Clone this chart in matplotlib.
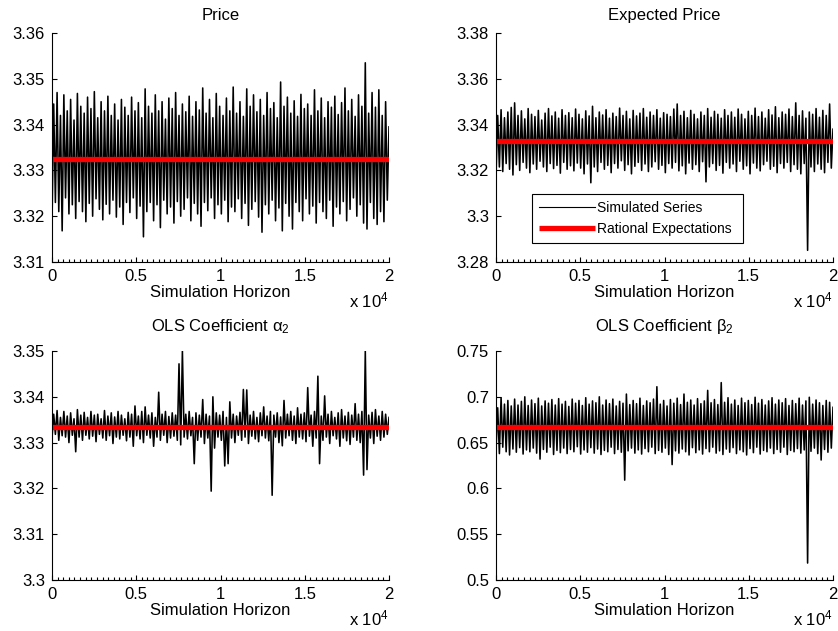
import numpy as np
import matplotlib
matplotlib.use("Agg")
import matplotlib.pyplot as plt
from matplotlib.ticker import FuncFormatter, MultipleLocator, FixedLocator

plt.rcParams['font.family'] = ['Liberation Sans', 'DejaVu Sans']
plt.rcParams['mathtext.fontset'] = 'custom'
plt.rcParams['mathtext.rm'] = 'Liberation Sans'
plt.rcParams['mathtext.it'] = 'Liberation Sans:italic'
plt.rcParams['mathtext.sf'] = 'Liberation Sans'

# ---------------- data ----------------
horizon = 20000

price_upper = [
    3.3445, 3.3470, 3.3420, 3.3465, 3.3430, 3.3455, 3.3410, 3.3468, 3.3440, 3.3425,
    3.3460, 3.3435, 3.3472, 3.3415, 3.3450, 3.3430, 3.3462, 3.3420, 3.3445, 3.3410,
    3.3455, 3.3438, 3.3420, 3.3460, 3.3430, 3.3448, 3.3415, 3.3478, 3.3440, 3.3425,
    3.3465, 3.3430, 3.3450, 3.3412, 3.3458, 3.3435, 3.3470, 3.3420, 3.3445, 3.3428,
    3.3462, 3.3418, 3.3450, 3.3432, 3.3480, 3.3425, 3.3455, 3.3415, 3.3468, 3.3440,
    3.3420, 3.3458, 3.3430, 3.3482, 3.3425, 3.3450, 3.3418, 3.3478, 3.3440, 3.3465,
    3.3428, 3.3455, 3.3420, 3.3470, 3.3435, 3.3448, 3.3415, 3.3493, 3.3440, 3.3460,
    3.3425, 3.3452, 3.3418, 3.3466, 3.3435, 3.3445, 3.3420, 3.3476, 3.3430, 3.3458,
    3.3415, 3.3450, 3.3438, 3.3462, 3.3422, 3.3448, 3.3480, 3.3430, 3.3455, 3.3418,
    3.3465, 3.3440, 3.3535, 3.3425, 3.3470, 3.3438, 3.3476, 3.3420, 3.3450, 3.3395]
price_lower = [
    3.3185, 3.3230, 3.3210, 3.3168, 3.3240, 3.3205, 3.3225, 3.3195, 3.3232, 3.3210,
    3.3188, 3.3228, 3.3200, 3.3238, 3.3215, 3.3192, 3.3226, 3.3205, 3.3235, 3.3198,
    3.3220, 3.3182, 3.3230, 3.3208, 3.3240, 3.3195, 3.3222, 3.3155, 3.3210, 3.3230,
    3.3190, 3.3225, 3.3175, 3.3235, 3.3205, 3.3220, 3.3185, 3.3232, 3.3200, 3.3215,
    3.3240, 3.3190, 3.3228, 3.3205, 3.3178, 3.3230, 3.3212, 3.3240, 3.3195, 3.3225,
    3.3205, 3.3235, 3.3188, 3.3220, 3.3210, 3.3238, 3.3195, 3.3228, 3.3180, 3.3215,
    3.3232, 3.3198, 3.3165, 3.3225, 3.3205, 3.3235, 3.3190, 3.3218, 3.3168, 3.3228,
    3.3200, 3.3172, 3.3230, 3.3210, 3.3190, 3.3238, 3.3205, 3.3222, 3.3185, 3.3230,
    3.3210, 3.3195, 3.3235, 3.3178, 3.3220, 3.3205, 3.3232, 3.3190, 3.3215, 3.3240,
    3.3200, 3.3225, 3.3185, 3.3172, 3.3230, 3.3195, 3.3182, 3.3210, 3.3188, 3.3235]
price_re = 3.3325

exp_upper = [
    3.3440, 3.3465, 3.3430, 3.3455, 3.3475, 3.3495, 3.3440, 3.3460, 3.3425, 3.3470,
    3.3445, 3.3435, 3.3462, 3.3420, 3.3450, 3.3470, 3.3438, 3.3455, 3.3428, 3.3465,
    3.3440, 3.3452, 3.3430, 3.3468, 3.3445, 3.3425, 3.3460, 3.3438, 3.3480, 3.3430,
    3.3455, 3.3442, 3.3465, 3.3428, 3.3450, 3.3435, 3.3472, 3.3440, 3.3458, 3.3425,
    3.3462, 3.3438, 3.3450, 3.3470, 3.3432, 3.3455, 3.3440, 3.3465, 3.3428, 3.3452,
    3.3445, 3.3435, 3.3468, 3.3490, 3.3440, 3.3458, 3.3430, 3.3462, 3.3445, 3.3425,
    3.3455, 3.3440, 3.3470, 3.3432, 3.3458, 3.3445, 3.3428, 3.3465, 3.3440, 3.3455,
    3.3432, 3.3468, 3.3445, 3.3425, 3.3458, 3.3440, 3.3472, 3.3435, 3.3455, 3.3428,
    3.3465, 3.3442, 3.3478, 3.3430, 3.3455, 3.3445, 3.3468, 3.3435, 3.3495, 3.3440,
    3.3460, 3.3428, 3.3455, 3.3445, 3.3470, 3.3432, 3.3462, 3.3440, 3.3490, 3.3380]
exp_lower = [
    3.3175, 3.3215, 3.3195, 3.3230, 3.3205, 3.3180, 3.3225, 3.3200, 3.3235, 3.3210,
    3.3190, 3.3228, 3.3205, 3.3240, 3.3215, 3.3195, 3.3230, 3.3208, 3.3222, 3.3188,
    3.3235, 3.3205, 3.3220, 3.3198, 3.3232, 3.3210, 3.3185, 3.3228, 3.3146, 3.3215,
    3.3195, 3.3235, 3.3205, 3.3222, 3.3190, 3.3230, 3.3210, 3.3242, 3.3200, 3.3225,
    3.3185, 3.3218, 3.3235, 3.3200, 3.3228, 3.3195, 3.3215, 3.3238, 3.3205, 3.3222,
    3.3190, 3.3230, 3.3210, 3.3235, 3.3198, 3.3220, 3.3185, 3.3232, 3.3205, 3.3225,
    3.3195, 3.3238, 3.3150, 3.3215, 3.3230, 3.3200, 3.3222, 3.3188, 3.3235, 3.3210,
    3.3228, 3.3195, 3.3240, 3.3205, 3.3220, 3.3185, 3.3232, 3.3210, 3.3198, 3.3225,
    3.3240, 3.3205, 3.3218, 3.3190, 3.3230, 3.3210, 3.3235, 3.3195, 3.3225, 3.3205,
    3.3185, 3.3230, 3.2851, 3.3215, 3.3195, 3.3228, 3.3205, 3.3190, 3.3235, 3.3210]
exp_re = 3.3330

alpha_upper = [
    3.3362, 3.3370, 3.3355, 3.3368, 3.3358, 3.3365, 3.3352, 3.3372, 3.3360, 3.3366,
    3.3355, 3.3368, 3.3360, 3.3362, 3.3352, 3.3370, 3.3358, 3.3365, 3.3356, 3.3368,
    3.3360, 3.3352, 3.3366, 3.3362, 3.3380, 3.3358, 3.3368, 3.3378, 3.3360, 3.3365,
    3.3355, 3.3410, 3.3362, 3.3368, 3.3357, 3.3365, 3.3360, 3.3472, 3.3500, 3.3362,
    3.3368, 3.3355, 3.3365, 3.3360, 3.3394, 3.3362, 3.3358, 3.3400, 3.3365, 3.3360,
    3.3368, 3.3355, 3.3389, 3.3362, 3.3358, 3.3366, 3.3416, 3.3415, 3.3360, 3.3368,
    3.3355, 3.3365, 3.3378, 3.3358, 3.3368, 3.3360, 3.3365, 3.3356, 3.3392, 3.3362,
    3.3368, 3.3358, 3.3376, 3.3362, 3.3365, 3.3420, 3.3360, 3.3368, 3.3445, 3.3358,
    3.3402, 3.3362, 3.3368, 3.3355, 3.3365, 3.3372, 3.3358, 3.3366, 3.3360, 3.3385,
    3.3362, 3.3368, 3.3500, 3.3360, 3.3366, 3.3372, 3.3358, 3.3368, 3.3362, 3.3355]
alpha_lower = [
    3.3310, 3.3318, 3.3305, 3.3315, 3.3312, 3.3300, 3.3316, 3.3280, 3.3312, 3.3305,
    3.3316, 3.3308, 3.3314, 3.3302, 3.3318, 3.3310, 3.3305, 3.3315, 3.3298, 3.3312,
    3.3308, 3.3316, 3.3304, 3.3312, 3.3292, 3.3315, 3.3308, 3.3300, 3.3316, 3.3310,
    3.3292, 3.3312, 3.3305, 3.3316, 3.3300, 3.3310, 3.3314, 3.3305, 3.3295, 3.3312,
    3.3308, 3.3315, 3.3254, 3.3305, 3.3312, 3.3298, 3.3310, 3.3194, 3.3288, 3.3312,
    3.3305, 3.3249, 3.3254, 3.3310, 3.3300, 3.3316, 3.3305, 3.3312, 3.3298, 3.3314,
    3.3308, 3.3302, 3.3315, 3.3310, 3.3304, 3.3185, 3.3312, 3.3300, 3.3293, 3.3310,
    3.3315, 3.3305, 3.3298, 3.3312, 3.3308, 3.3302, 3.3314, 3.3292, 3.3310, 3.3254,
    3.3305, 3.3312, 3.3298, 3.3315, 3.3308, 3.3292, 3.3310, 3.3304, 3.3296, 3.3312,
    3.3305, 3.3300, 3.3229, 3.3241, 3.3310, 3.3298, 3.3314, 3.3305, 3.3312, 3.3318]
alpha_re = 3.3334

beta_upper = [
    0.6880, 0.6990, 0.6920, 0.6960, 0.6900, 0.6975, 0.6910, 0.6950, 0.7000, 0.6905,
    0.6965, 0.6925, 0.6985, 0.6900, 0.6955, 0.6930, 0.6970, 0.6910, 0.6980, 0.6920,
    0.6950, 0.6895, 0.6975, 0.6930, 0.6960, 0.6905, 0.6990, 0.6920, 0.6955, 0.6935,
    0.7000, 0.6910, 0.6965, 0.6925, 0.6975, 0.6900, 0.6950, 0.6930, 0.7030, 0.6915,
    0.6960, 0.6925, 0.6985, 0.6905, 0.6955, 0.6935, 0.6975, 0.7110, 0.6920, 0.6960,
    0.6900, 0.6970, 0.6930, 0.6985, 0.6915, 0.7030, 0.6940, 0.6965, 0.6910, 0.6980,
    0.6925, 0.6955, 0.7070, 0.6935, 0.6970, 0.6915, 0.7155, 0.6940, 0.6990, 0.6920,
    0.6965, 0.6905, 0.6985, 0.6935, 0.6960, 0.6915, 0.6995, 0.6930, 0.6970, 0.6910,
    0.6955, 0.6990, 0.6920, 0.6965, 0.6935, 0.6980, 0.6905, 0.6960, 0.6925, 0.6985,
    0.6910, 0.6955, 0.6995, 0.6920, 0.6965, 0.6935, 0.6905, 0.6960, 0.6940, 0.6885]
beta_lower = [
    0.6420, 0.6380, 0.6450, 0.6400, 0.6365, 0.6430, 0.6395, 0.6445, 0.6375, 0.6420,
    0.6400, 0.6440, 0.6385, 0.6320, 0.6425, 0.6395, 0.6450, 0.6370, 0.6415, 0.6390,
    0.6440, 0.6380, 0.6425, 0.6400, 0.6455, 0.6375, 0.6420, 0.6395, 0.6445, 0.6385,
    0.6430, 0.6370, 0.6415, 0.6400, 0.6450, 0.6380, 0.6425, 0.6395, 0.6090, 0.6410,
    0.6440, 0.6385, 0.6420, 0.6375, 0.6435, 0.6400, 0.6450, 0.6380, 0.6415, 0.6395,
    0.6440, 0.6370, 0.6260, 0.6410, 0.6385, 0.6430, 0.6400, 0.6365, 0.6445, 0.6390,
    0.6420, 0.6375, 0.6435, 0.6400, 0.6450, 0.6385, 0.6410, 0.6370, 0.6430, 0.6395,
    0.6445, 0.6380, 0.6420, 0.6400, 0.6365, 0.6435, 0.6390, 0.6450, 0.6375, 0.6415,
    0.6400, 0.6440, 0.6380, 0.6425, 0.6395, 0.6450, 0.6370, 0.6415, 0.6400, 0.6435,
    0.6385, 0.6420, 0.5185, 0.6405, 0.6440, 0.6380, 0.6310, 0.6425, 0.6395, 0.6440]
beta_re = 0.6667

titles = ['Price', 'Expected Price',
          r'OLS Coefficient $\mathrm{\alpha}_2$', r'OLS Coefficient $\mathrm{\beta}_2$']
ylims = [(3.31, 3.36), (3.28, 3.38), (3.30, 3.35), (0.50, 0.75)]
yticks = [[3.31, 3.32, 3.33, 3.34, 3.35, 3.36],
          [3.28, 3.30, 3.32, 3.34, 3.36, 3.38],
          [3.30, 3.31, 3.32, 3.33, 3.34, 3.35],
          [0.50, 0.55, 0.60, 0.65, 0.70, 0.75]]
xticks = [0, 5000, 10000, 15000, 20000]
xlabel = 'Simulation Horizon'
legend_labels = ['Simulated Series', 'Rational Expectations']

panels = [(price_lower, price_upper, price_re),
          (exp_lower, exp_upper, exp_re),
          (alpha_lower, alpha_upper, alpha_re),
          (beta_lower, beta_upper, beta_re)]

# ---------------- figure ----------------
fig = plt.figure(figsize=(8.38, 6.31), dpi=100)
W, H = 838, 631
boxes = [(52, 33, 337, 229), (496, 33, 337, 229),
         (52, 351, 337, 229), (496, 351, 337, 229)]
title_pads = [9.2, 9.2, 14.4, 14.4]

fs = 12
for k, ((lo, up, re), (l, t, w, h)) in enumerate(zip(panels, boxes)):
    ax = fig.add_axes([l / W, 1 - (t + h) / H, w / W, h / H])
    series = np.column_stack([lo, up]).ravel()
    x = np.linspace(0, horizon, len(series))
    ln1, = ax.plot(x, series, color='black', lw=1.15)
    ln2, = ax.plot([0, horizon], [re, re], color='#ff0000', lw=3.8, solid_capstyle='butt')
    ax.set_xlim(0, horizon)
    ax.set_ylim(*ylims[k])
    ax.yaxis.set_major_locator(FixedLocator(yticks[k]))
    ax.yaxis.set_major_formatter(FuncFormatter(lambda v, p: '%g' % round(v, 4)))
    ax.xaxis.set_major_locator(FixedLocator(xticks))
    ax.xaxis.set_minor_locator(MultipleLocator(1000 / 3))
    ax.xaxis.set_major_formatter(FuncFormatter(lambda v, p: '%g' % (v / 1e4)))
    for s in ['top', 'right']:
        ax.spines[s].set_visible(False)
    ax.tick_params(direction='in', which='major', length=3.5, width=0.8, labelsize=fs, colors='black')
    ax.tick_params(direction='in', which='minor', length=2, width=0.8)
    ax.tick_params(axis='y', which='major', pad=5)
    ax.tick_params(axis='x', which='major', pad=5)
    ax.set_title(titles[k], fontsize=fs, pad=title_pads[k])
    ax.set_xlabel(xlabel, fontsize=fs, labelpad=1)
    ax.text(1.0, -0.197, r'x 10$^{4}$', transform=ax.transAxes, ha='right', va='baseline', fontsize=fs)
    if k == 1:
        leg = ax.legend([ln1, ln2], legend_labels, loc='lower left',
                        bbox_to_anchor=(0.107, 0.083, 0.626, 0.214), mode='expand',
                        fontsize=10, frameon=True, fancybox=False, framealpha=1,
                        edgecolor='black', handlelength=4.0, handletextpad=0.2,
                        borderaxespad=0, borderpad=0.5, labelspacing=0.5)
        leg.get_frame().set_linewidth(0.8)
        leg.get_lines()[0].set_linewidth(0.8)

fig.savefig('out.png', dpi=100)
